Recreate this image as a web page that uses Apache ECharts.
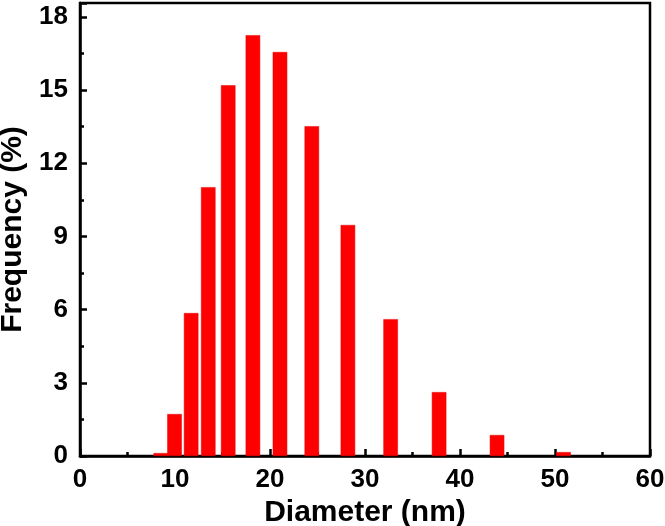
<!DOCTYPE html>
<html>
<head>
<meta charset="utf-8">
<script src="https://cdn.jsdelivr.net/npm/echarts@6/dist/echarts.min.js"></script>
<style>
  html, body { margin: 0; padding: 0; background: #fff; }
  #chart { width: 665px; height: 526px; }
</style>
</head>
<body>
<div id="chart"></div>
<script>
// bin centres (nm) and frequency (%)
const diameters = [8.5, 9.95, 11.7, 13.5, 15.6, 18.2, 21.05, 24.4, 28.2, 32.7, 37.8, 43.9, 50.9];
const frequency = [0.12, 1.72, 5.86, 11.02, 15.2, 17.25, 16.56, 13.52, 9.47, 5.61, 2.62, 0.86, 0.16];

const font = "'Liberation Sans', Arial, sans-serif";
let myChart = echarts.init(document.getElementById("chart"));
let option = {
  animation: false,
  grid: {
    left: 80,
    right: 15,
    top: 3,
    bottom: 70,
    outerBoundsMode: "none",
    containLabel: false,
    show: true,
    borderColor: "#000",
    borderWidth: 2.5,
  },
  xAxis: {
    type: "value",
    min: 0,
    max: 60,
    interval: 10,
    name: "Diameter (nm)",
    nameLocation: "middle",
    nameGap: 38,
    nameTextStyle: { fontFamily: font, fontWeight: "bold", fontSize: 30, color: "#000" },
    axisLine: { lineStyle: { color: "#000", width: 2.5 } },
    axisTick: { inside: true, length: 7, lineStyle: { width: 2.5, color: "#000" } },
    minorTick: { show: true, splitNumber: 2, length: 4, lineStyle: { width: 2.5, color: "#000" } },
    splitLine: { show: false },
    axisLabel: { fontFamily: font, fontWeight: "bold", fontSize: 26, color: "#000", margin: 11 },
  },
  yAxis: {
    type: "value",
    min: 0,
    max: 18.57,
    interval: 3,
    name: "Frequency (%)",
    nameLocation: "middle",
    nameGap: 48,
    nameTextStyle: { fontFamily: font, fontWeight: "bold", fontSize: 30, color: "#000" },
    axisLine: { lineStyle: { color: "#000", width: 2.5 } },
    axisTick: { inside: true, length: 7, lineStyle: { width: 2.5, color: "#000" } },
    minorTick: { show: true, splitNumber: 2, length: 4, lineStyle: { width: 2.5, color: "#000" } },
    splitLine: { show: false },
    axisLabel: { fontFamily: font, fontWeight: "bold", fontSize: 26, color: "#000", margin: 12, showMaxLabel: false },
  },
  series: [
    {
      type: "bar",
      barWidth: 14.5,
      data: diameters.map((d, i) => [d, frequency[i]]),
      itemStyle: { color: "#ff0000", borderColor: "#e80000", borderWidth: 0.5 },
    },
  ],
};
myChart.setOption(option);
</script>
</body>
</html>
